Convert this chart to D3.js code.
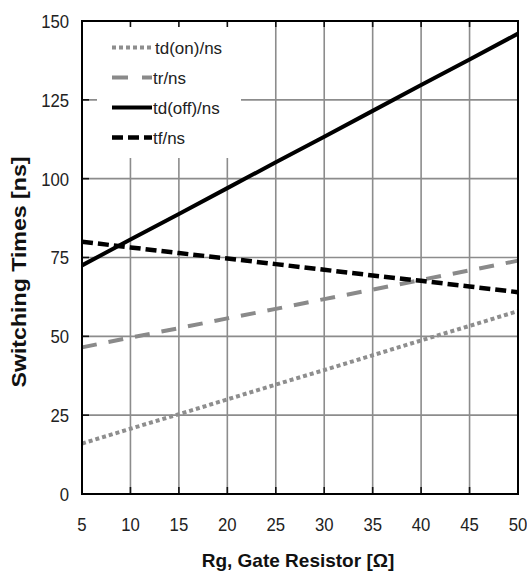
<!DOCTYPE html>
<html>
<head>
<meta charset="utf-8">
<script src="https://cdn.jsdelivr.net/npm/d3@7"></script>
<style>
  html, body { margin: 0; padding: 0; background: #fff; }
  svg { display: block; font-family: "Liberation Sans", Arial, sans-serif; }
</style>
</head>
<body>
<svg id="chart" width="527" height="574"></svg>
<script>
// Gate resistance (Ω)
const rg = [5, 10, 15, 20, 25, 30, 35, 40, 45, 50];
// Switching times (ns)
const tdOn  = [16, 20.7, 25.3, 30, 34.7, 39.3, 44, 48.7, 53.3, 58];
const tr    = [46.5, 49.6, 52.6, 55.7, 58.7, 61.8, 64.8, 67.9, 70.9, 74];
const tdOff = [72.5, 80.7, 88.8, 97, 105.2, 113.3, 121.5, 129.7, 137.8, 146];
const tf    = [80, 78.2, 76.4, 74.7, 72.9, 71.1, 69.3, 67.6, 65.8, 64];

const xTicks = [5, 10, 15, 20, 25, 30, 35, 40, 45, 50];
const yTicks = [0, 25, 50, 75, 100, 125, 150];

const seriesNames = ["td(on)/ns", "tr/ns", "td(off)/ns", "tf/ns"];
const seriesValues = [tdOn, tr, tdOff, tf];
const seriesStyle = [
  { color: "#8e8e8e", width: 4,   dash: "4,3"   },
  { color: "#8a8a8a", width: 4,   dash: "15,12" },
  { color: "#000000", width: 4,   dash: null    },
  { color: "#000000", width: 4.5, dash: "11,5"  }
];

const svg = d3.select("#chart");
const L = 82, R = 518, T = 21, B = 494;

const x = d3.scaleLinear().domain([5, 50]).range([L, R]);
const y = d3.scaleLinear().domain([0, 150]).range([B, T]);

// grid
const grid = svg.append("g");
grid.selectAll("line.v").data(xTicks.slice(1, -1)).join("line")
  .attr("x1", d => x(d)).attr("x2", d => x(d))
  .attr("y1", T).attr("y2", B)
  .attr("stroke", "#8c8c8c").attr("stroke-width", 1.6);
grid.selectAll("line.h").data(yTicks.slice(1, -1)).join("line")
  .attr("x1", L).attr("x2", R)
  .attr("y1", d => y(d)).attr("y2", d => y(d))
  .attr("stroke", "#8c8c8c").attr("stroke-width", 1.6);

// legend background
svg.append("rect")
  .attr("x", 97).attr("y", T + 1).attr("width", 144).attr("height", 136)
  .attr("fill", "#fff");

// inner ticks
const tickG = svg.append("g").attr("stroke", "#111").attr("stroke-width", 1.6);
tickG.selectAll("line.b").data(xTicks.slice(1, -1)).join("line")
  .attr("x1", d => x(d)).attr("x2", d => x(d)).attr("y1", B).attr("y2", B - 7);
tickG.selectAll("line.t").data(xTicks.slice(1, -1)).join("line")
  .attr("x1", d => x(d)).attr("x2", d => x(d)).attr("y1", T).attr("y2", T + 6);
tickG.selectAll("line.l").data(yTicks.slice(1, -1)).join("line")
  .attr("x1", L).attr("x2", L + 7).attr("y1", d => y(d)).attr("y2", d => y(d));

// series lines
const line = d3.line().x((d, i) => x(rg[i])).y(d => y(d));
seriesValues.forEach((vals, k) => {
  const s = seriesStyle[k];
  svg.append("path")
    .datum(vals)
    .attr("d", line)
    .attr("fill", "none")
    .attr("stroke", s.color)
    .attr("stroke-width", s.width)
    .attr("stroke-dasharray", s.dash);
});

// frame
svg.append("rect")
  .attr("x", L).attr("y", T).attr("width", R - L).attr("height", B - T)
  .attr("fill", "none").attr("stroke", "#000").attr("stroke-width", 2);

// tick labels
svg.append("g").selectAll("text").data(yTicks).join("text")
  .attr("transform", d => `translate(69,${y(d)}) scale(0.88,1)`)
  .attr("text-anchor", "end").attr("dy", "0.36em")
  .attr("font-size", 19).attr("fill", "#222")
  .text(d => d);
svg.append("g").selectAll("text").data(xTicks).join("text")
  .attr("transform", d => `translate(${x(d)},531) scale(0.88,1)`)
  .attr("text-anchor", "middle")
  .attr("font-size", 19).attr("fill", "#222")
  .text(d => d);

// axis titles
svg.append("text")
  .attr("x", 298).attr("y", 567)
  .attr("text-anchor", "middle")
  .attr("font-size", 19).attr("font-weight", "bold").attr("fill", "#111")
  .text("Rg, Gate Resistor [Ω]");
svg.append("text")
  .attr("transform", "translate(26,272) rotate(-90)")
  .attr("text-anchor", "middle")
  .attr("font-size", 20).attr("font-weight", "bold").attr("fill", "#111")
  .attr("textLength", 231).attr("lengthAdjust", "spacingAndGlyphs")
  .text("Switching Times [ns]");

// legend
const legY = [47.5, 77.5, 107.5, 137.5];
const leg = svg.append("g");
seriesNames.forEach((name, k) => {
  const s = seriesStyle[k];
  leg.append("line")
    .attr("x1", 112).attr("x2", 152)
    .attr("y1", legY[k]).attr("y2", legY[k])
    .attr("stroke", s.color).attr("stroke-width", s.width)
    .attr("stroke-dasharray", k === 1 ? "16,14" : s.dash);
  leg.append("text")
    .attr("x", k === 0 ? 155 : 153).attr("y", legY[k] + 6.5)
    .attr("font-size", 17).attr("fill", "#222")
    .text(name);
});
</script>
</body>
</html>
